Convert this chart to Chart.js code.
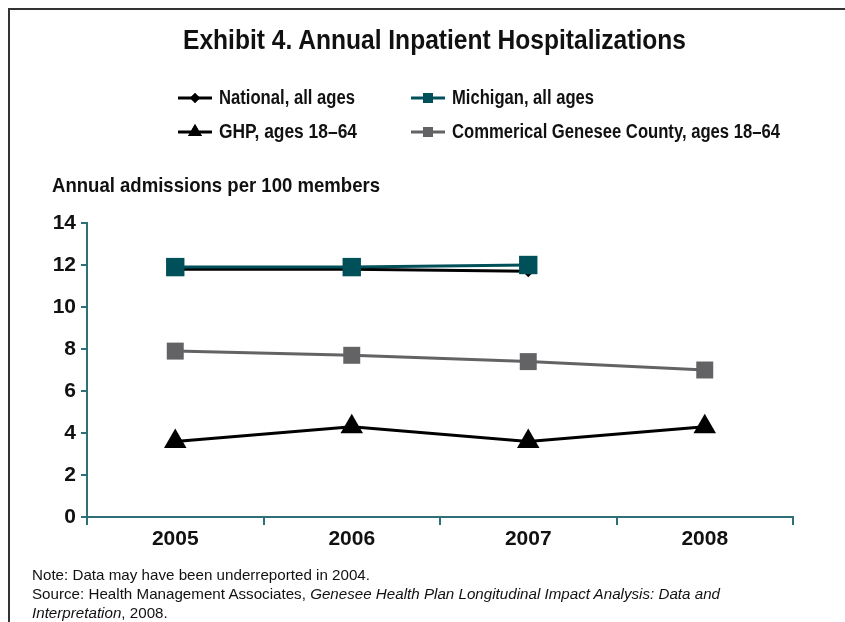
<!DOCTYPE html>
<html>
<head>
<meta charset="utf-8">
<script src="https://cdn.jsdelivr.net/npm/chart.js@4/dist/chart.umd.min.js"></script>
<style>
  body { margin: 0; background: #fff; }
  #wrap { position: relative; width: 845px; height: 622px; overflow: hidden; }
  #frame { position: absolute; left: 8px; top: 8px; width: 845px; height: 622px;
           border-left: 2px solid #333; border-top: 2px solid #333; box-sizing: border-box; }
  .txt { position: absolute; font-family: "Liberation Sans", Arial, sans-serif; color: #111;
         white-space: nowrap; transform-origin: left top; display: inline-block; }
  .b { font-weight: bold; }
  #chart { position: absolute; left: 0; top: 0; }
  .legline { position: absolute; }
</style>
</head>
<body>
<div id="wrap">
  <div id="frame"></div>
  <canvas id="chart" width="845" height="622"></canvas>
  <div id="texts"></div>
</div>
<script>
// --- Données ---
const years = ['2005', '2006', '2007', '2008'];
const national = [11.8, 11.8, 11.7, null];
const michigan = [11.9, 11.9, 12.0, null];
const ghp = [3.6, 4.3, 3.6, 4.3];
const commercial = [7.9, 7.7, 7.4, 7.0];
const yTicks = [0, 2, 4, 6, 8, 10, 12, 14];

const teal = '#00505a';
const grey = '#636366';
const axisColor = '#2e6f78';

const series = [
    { label: 'National, all ages', data: national, color: '#000', style: 'rectRot', radius: 6, legRadius: 5, order: 1, x: 178, y: 98, w: 136 },
    { label: 'Michigan, all ages', data: michigan, color: teal, style: 'rect', radius: 13, legRadius: 7, order: 0, x: 411, y: 98, w: 142 },
    { label: 'GHP, ages 18\u201364', data: ghp, color: '#000', style: 'triangle', radius: 13, legRadius: 8, order: 3, x: 178, y: 132, w: 138 },
    { label: 'Commerical Genesee County, ages 18\u201364', data: commercial, color: grey, style: 'rect', radius: 12, legRadius: 7, order: 2, x: 411, y: 132, w: 328 }
];

const textsDiv = document.getElementById('texts');

// Place un texte et le compresse horizontalement pour atteindre la largeur voulue
function addText(html, x, y, size, bold, targetW) {
    const el = document.createElement('div');
    el.className = 'txt' + (bold ? ' b' : '');
    el.style.left = x + 'px';
    el.style.top = y + 'px';
    el.style.fontSize = size + 'px';
    el.innerHTML = html;
    textsDiv.appendChild(el);
    if (targetW) {
        const w = el.getBoundingClientRect().width;
        el.style.transform = `scaleX(${targetW / w})`;
    }
    return el;
}

// Titre
addText('Exhibit 4. Annual Inpatient Hospitalizations', 183, 24, 28, true, 503);

// Légende
series.forEach(s => {
    const c = document.createElement('canvas');
    c.className = 'legline';
    c.width = 34; c.height = 20;
    c.style.left = s.x + 'px';
    c.style.top = (s.y - 10) + 'px';
    const ctx = c.getContext('2d');
    ctx.strokeStyle = s.color;
    ctx.lineWidth = 3;
    ctx.beginPath(); ctx.moveTo(0, 10); ctx.lineTo(34, 10); ctx.stroke();
    ctx.fillStyle = s.color;
    Chart.helpers.drawPoint(ctx, { pointStyle: s.style, radius: s.legRadius, borderWidth: 0 }, 17, 10);
    ctx.fill();
    textsDiv.appendChild(c);
    addText(s.label, s.x + 41, s.y - 12, 20, true, s.w);
});

// Titre de l'axe
addText('Annual admissions per 100 members', 52, 173, 21, true, 328);

// Notes
const noteScale = (() => {
    const el = addText('Note: Data may have been underreported in 2004.', 32, 566, 15, false, 338);
    return el.style.transform;
})();
[
    'Source: Health Management Associates, <i>Genesee Health Plan Longitudinal Impact Analysis: Data and</i>',
    '<i>Interpretation</i>, 2008.'
].forEach((line, i) => {
    const el = addText(line, 32, 585 + i * 19, 15, false);
    el.style.transform = noteScale;
});

// --- Graphique ---
const tickFont = { family: '"Liberation Sans", Arial, sans-serif', size: 21, weight: 'bold' };

new Chart(document.getElementById('chart'), {
    type: 'line',
    data: {
        labels: years,
        datasets: series.map(s => ({
            label: s.label,
            data: s.data,
            order: s.order,
            borderColor: s.color,
            backgroundColor: s.color,
            borderWidth: 3,
            pointStyle: s.style,
            pointRadius: s.radius,
            pointHoverRadius: s.radius,
            pointBorderWidth: 0,
            tension: 0,
            spanGaps: false
        }))
    },
    options: {
        responsive: false,
        animation: false,
        layout: { padding: { left: 30, top: 223, right: 52, bottom: 64 } },
        plugins: { legend: { display: false }, tooltip: { enabled: false } },
        scales: {
            x: {
                offset: true,
                border: { color: axisColor, width: 2 },
                grid: { offset: true, drawOnChartArea: false, color: axisColor, lineWidth: 2, tickLength: 8 },
                ticks: { color: '#111', font: tickFont, padding: 2 },
                afterFit: scale => { scale.height = 41; }
            },
            y: {
                min: 0, max: 14,
                afterBuildTicks: scale => { scale.ticks = yTicks.map(v => ({ value: v })); },
                border: { color: axisColor, width: 2 },
                grid: { drawOnChartArea: false, color: axisColor, lineWidth: 2, tickLength: 6 },
                ticks: { color: '#111', font: tickFont, padding: 5 },
                afterFit: scale => { scale.width = 57; }
            }
        }
    }
});
</script>
</body>
</html>
